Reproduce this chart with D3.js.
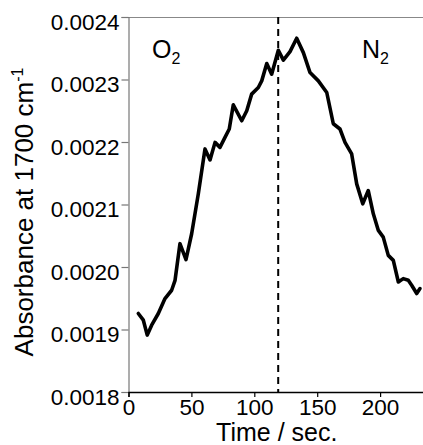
<!DOCTYPE html>
<html><head><meta charset="utf-8">
<script src="https://cdn.jsdelivr.net/npm/d3@7"></script>
<style>body{margin:0;background:#fff}svg{display:block}text{font-family:"Liberation Sans",Arial,sans-serif;fill:#000}</style>
</head><body><svg id="c" width="423" height="445"></svg>
<script>
const times = [7.8,11.8,14.9,18.4,23.7,29.0,34.3,37.0,40.9,45.7,50.2,55.5,60.8,64.8,68.8,72.7,76.7,80.1,83.3,90.0,94.0,97.9,103.2,105.9,109.9,113.8,119.1,123.1,128.4,133.7,139.0,144.3,150.9,157.6,162.8,168.1,172.1,177.4,181.4,186.2,190.6,194.6,198.6,202.5,206.5,210.5,214.5,218.4,222.4,225.1,229.1,231.7];
const absorbance = [0.0019256,0.0019149,0.0018910,0.0019069,0.0019256,0.0019495,0.0019628,0.0019787,0.0020373,0.0020117,0.0020532,0.0021171,0.0021889,0.0021713,0.0021994,0.0021914,0.0022074,0.0022208,0.0022595,0.0022340,0.0022500,0.0022766,0.0022872,0.0022978,0.0023255,0.0023085,0.0023468,0.0023309,0.0023446,0.0023660,0.0023430,0.0023111,0.0022978,0.0022792,0.0022292,0.0022208,0.0021994,0.0021809,0.0021330,0.0021011,0.0021223,0.0020851,0.0020585,0.0020478,0.0020186,0.0020106,0.0019760,0.0019814,0.0019787,0.0019707,0.0019575,0.0019655];
const xTicks = [0,50,100,150,200];
const yTicks = [0.0018,0.0019,0.0020,0.0021,0.0022,0.0023,0.0024];
const switchTime = [119];
const gasLabels = ["O", "N"];

const svg = d3.select("#c");
const L = 128.5, T = 17, B = 392;
const x = d3.scaleLinear().domain([0,235]).range([L, L + 235*1.258]);
const y = d3.scaleLinear().domain([0.0018,0.0024]).range([B, T]);

// top border
svg.append("line").attr("x1",L).attr("x2",423).attr("y1",T+0.5).attr("y2",T+0.5).attr("stroke","#888").attr("stroke-width",1.2);

// y axis
const ya = svg.append("g").attr("transform",`translate(${L},0)`)
  .call(d3.axisLeft(y).tickValues(yTicks).tickFormat(d3.format(".4f")).tickSize(7).tickPadding(2));
ya.select(".domain").attr("stroke","#777").attr("stroke-width",1.2);
ya.selectAll(".tick line").attr("stroke","#777").attr("stroke-width",1.2);
ya.selectAll(".tick text").attr("font-size","22.5px").attr("font-family","Liberation Sans, Arial, sans-serif").attr("dy","0.55em");

// x axis
const xa = svg.append("g").attr("transform",`translate(0,${B})`)
  .call(d3.axisBottom(x).tickValues(xTicks).tickFormat(d3.format("d")).tickSize(5).tickPadding(2));
xa.select(".domain").attr("stroke","#000").attr("stroke-width",1.3);
xa.selectAll(".tick line").attr("stroke","#000").attr("stroke-width",1.2);
xa.selectAll(".tick text").attr("font-size","22.5px").attr("font-family","Liberation Sans, Arial, sans-serif");

// dashed line
svg.selectAll(".sw").data(switchTime).enter().append("line")
  .attr("x1",d=>x(d)).attr("x2",d=>x(d)).attr("y1",T).attr("y2",B)
  .attr("stroke","#000").attr("stroke-width",2).attr("stroke-dasharray","7,5");

// data line
const line = d3.line().x((d,i)=>x(times[i])).y(d=>y(d)).curve(d3.curveLinear);
svg.append("path").datum(absorbance).attr("d",line).attr("fill","none")
  .attr("stroke","#000").attr("stroke-width",3.6).attr("stroke-linejoin","round").attr("stroke-linecap","round");

// gas labels
const gx = [152, 362];
gasLabels.forEach((g,i)=>{
  const t = svg.append("text").attr("x",gx[i]).attr("y",58).attr("font-size","25px");
  t.append("tspan").text(g);
  t.append("tspan").attr("font-size","16px").attr("dy","6").text("2");
});

// axis titles
svg.append("text").attr("x", (L+423)/2 + 1).attr("y",441).attr("text-anchor","middle").attr("font-size","25px").text("Time / sec.");
const yl = svg.append("text").attr("transform",`translate(33,212) rotate(-90)`).attr("text-anchor","middle").attr("font-size","26px");
yl.append("tspan").text("Absorbance at 1700 cm");
yl.append("tspan").attr("font-size","16px").attr("dy","-10").text("-1");
</script></body></html>
